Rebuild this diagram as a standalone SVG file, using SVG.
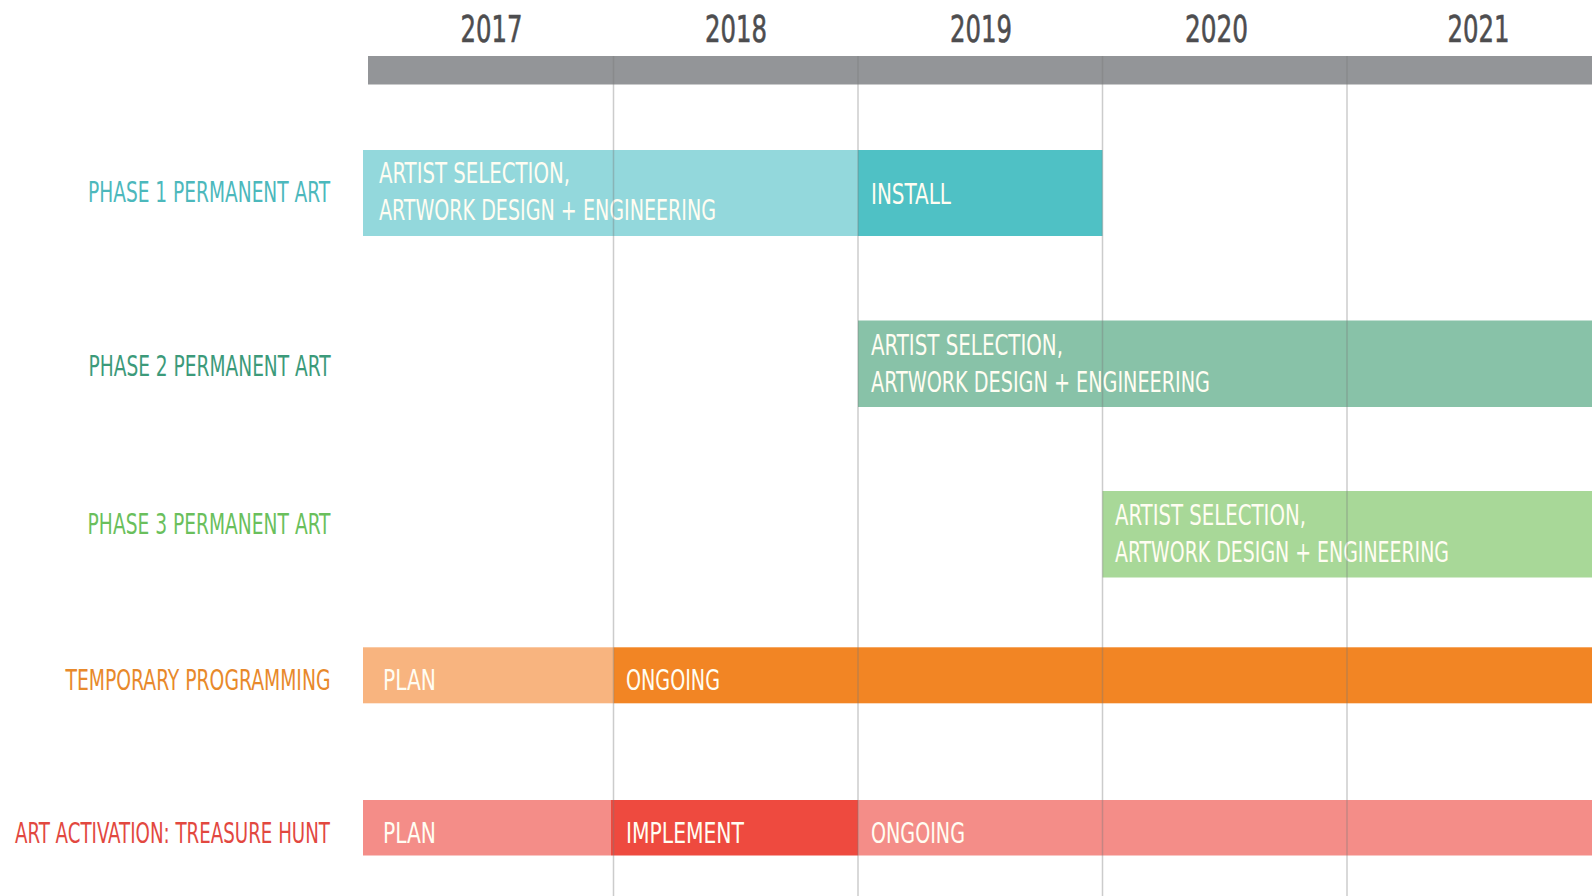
<svg xmlns="http://www.w3.org/2000/svg" width="1595" height="896" viewBox="0 0 1595 896">
<style>
text{font-family:"Liberation Sans Narrow","DejaVu Sans Condensed","Liberation Sans",sans-serif;}
.yr{font-size:38px;fill:#4d4d4f;stroke:#4d4d4f;stroke-width:0.6;text-anchor:middle;}
.lbl{font-size:29px;text-anchor:end;}
.bt{font-size:29px;fill:#fffdf2;}
.grid{stroke:#7a7a7a;stroke-opacity:0.38;stroke-width:1.5;}
</style>
<rect width="1595" height="896" fill="#ffffff"/>
<g id="header">
<rect x="368" y="56" width="1224" height="28.5" fill="#939598"/>
<text class="yr" x="491.5" y="41.5" textLength="62" lengthAdjust="spacingAndGlyphs">2017</text>
<text class="yr" x="736" y="41.5" textLength="62" lengthAdjust="spacingAndGlyphs">2018</text>
<text class="yr" x="981" y="41.5" textLength="62" lengthAdjust="spacingAndGlyphs">2019</text>
<text class="yr" x="1216.5" y="41.5" textLength="63" lengthAdjust="spacingAndGlyphs">2020</text>
<text class="yr" x="1478.5" y="41.5" textLength="62" lengthAdjust="spacingAndGlyphs">2021</text>
</g>
<g id="phase1">
<text class="lbl" transform="translate(330,201.7) scale(0.7,1)" x="0" y="0" fill="#4cb8bc" textLength="345.7" lengthAdjust="spacingAndGlyphs">PHASE 1 PERMANENT ART</text>
<rect x="363" y="150" width="495" height="86" fill="#93d8dc"/>
<rect x="858" y="150" width="244.5" height="86" fill="#4fc1c5"/>
<text class="bt" x="379" y="182.5" textLength="191" lengthAdjust="spacingAndGlyphs">ARTIST SELECTION,</text>
<text class="bt" x="379" y="219.5" textLength="337" lengthAdjust="spacingAndGlyphs">ARTWORK DESIGN + ENGINEERING</text>
<text class="bt" x="871" y="203.5" textLength="80" lengthAdjust="spacingAndGlyphs">INSTALL</text>
</g>
<g id="phase2">
<text class="lbl" transform="translate(330.5,376) scale(0.7,1)" x="0" y="0" fill="#3c9a7a" textLength="345.7" lengthAdjust="spacingAndGlyphs">PHASE 2 PERMANENT ART</text>
<rect x="858" y="320.5" width="734" height="86.5" fill="#88c2a8"/>
<text class="bt" x="871" y="354.5" textLength="192" lengthAdjust="spacingAndGlyphs">ARTIST SELECTION,</text>
<text class="bt" x="871" y="391.5" textLength="339" lengthAdjust="spacingAndGlyphs">ARTWORK DESIGN + ENGINEERING</text>
</g>
<g id="phase3">
<text class="lbl" transform="translate(330.5,534) scale(0.7,1)" x="0" y="0" fill="#6abf5c" textLength="347" lengthAdjust="spacingAndGlyphs">PHASE 3 PERMANENT ART</text>
<rect x="1102.5" y="491" width="489.5" height="86.5" fill="#a8d898"/>
<text class="bt" x="1115" y="524.5" textLength="191" lengthAdjust="spacingAndGlyphs">ARTIST SELECTION,</text>
<text class="bt" x="1115" y="562" textLength="334" lengthAdjust="spacingAndGlyphs">ARTWORK DESIGN + ENGINEERING</text>
</g>
<g id="temporary">
<text class="lbl" transform="translate(330.5,689.5) scale(0.7,1)" x="0" y="0" fill="#e8892b" textLength="378.6" lengthAdjust="spacingAndGlyphs">TEMPORARY PROGRAMMING</text>
<rect x="363" y="647.3" width="250.5" height="56" fill="#f8b47f"/>
<rect x="613.5" y="647.3" width="978.5" height="56" fill="#f28524"/>
<text class="bt" x="383" y="690" textLength="53" lengthAdjust="spacingAndGlyphs">PLAN</text>
<text class="bt" x="626" y="690" textLength="94" lengthAdjust="spacingAndGlyphs">ONGOING</text>
</g>
<g id="treasure">
<text class="lbl" transform="translate(330,842.5) scale(0.7,1)" x="0" y="0" fill="#e2483f" textLength="450" lengthAdjust="spacingAndGlyphs">ART ACTIVATION: TREASURE HUNT</text>
<rect x="363" y="800" width="248" height="55.5" fill="#f48d88"/>
<rect x="611" y="800" width="247" height="55.5" fill="#ee4a3f"/>
<rect x="858" y="800" width="734" height="55.5" fill="#f48d88"/>
<text class="bt" x="383" y="842.5" textLength="53" lengthAdjust="spacingAndGlyphs">PLAN</text>
<text class="bt" x="626" y="842.5" textLength="118" lengthAdjust="spacingAndGlyphs">IMPLEMENT</text>
<text class="bt" x="871" y="843" textLength="94" lengthAdjust="spacingAndGlyphs">ONGOING</text>
</g>
<g id="connectors">
<line class="grid" x1="613.5" y1="56" x2="613.5" y2="896"/>
<line class="grid" x1="858" y1="56" x2="858" y2="896"/>
<line class="grid" x1="1102.5" y1="56" x2="1102.5" y2="896"/>
<line class="grid" x1="1347" y1="56" x2="1347" y2="896"/>
</g>
</svg>
